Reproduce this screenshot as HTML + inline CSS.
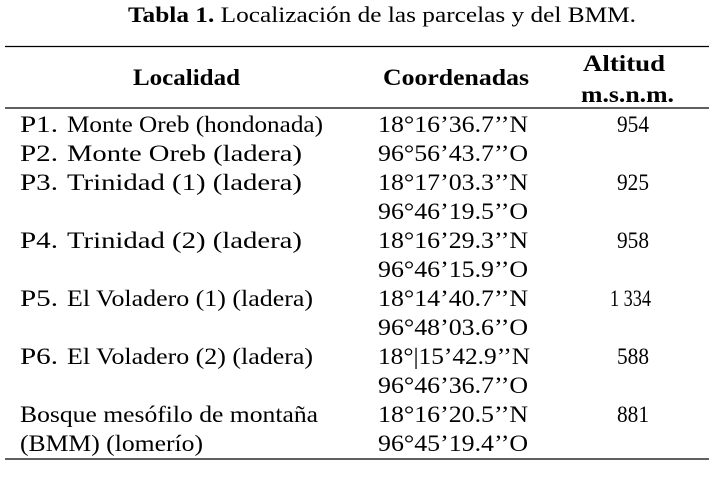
<!DOCTYPE html>
<html><head><meta charset="utf-8"><style>
html,body{margin:0;padding:0;background:#fff;}
svg text{font-family:"Liberation Serif","Times New Roman",Times,serif;}
</style></head><body>
<svg width="722" height="473" viewBox="0 0 722 473">
<text x="128" y="22" font-size="22" textLength="508" lengthAdjust="spacingAndGlyphs"><tspan font-weight="bold">Tabla 1.</tspan> Localización de las parcelas y del BMM.</text>
<line x1="5" y1="46.5" x2="709" y2="46.5" stroke="#000" stroke-width="1.3"/>
<text x="133" y="85" font-size="23" font-weight="bold" textLength="107" lengthAdjust="spacingAndGlyphs">Localidad</text>
<text x="383" y="85" font-size="23" font-weight="bold" textLength="146" lengthAdjust="spacingAndGlyphs">Coordenadas</text>
<text x="583" y="71" font-size="23" font-weight="bold" textLength="82" lengthAdjust="spacingAndGlyphs">Altitud</text>
<text x="581" y="102" font-size="23" font-weight="bold" textLength="93" lengthAdjust="spacingAndGlyphs">m.s.n.m.</text>
<line x1="5" y1="108" x2="709" y2="108" stroke="#000" stroke-width="1.2"/>
<g font-size="23">
<text x="20" y="132" textLength="38" lengthAdjust="spacingAndGlyphs">P1.</text>
<text x="67" y="132" textLength="256" lengthAdjust="spacingAndGlyphs">Monte Oreb (hondonada)</text>
<text x="378" y="132" textLength="150" lengthAdjust="spacingAndGlyphs">18°16’36.7’’N</text>
<text x="617" y="132" textLength="32" lengthAdjust="spacingAndGlyphs">954</text>

<text x="20" y="161" textLength="38" lengthAdjust="spacingAndGlyphs">P2.</text>
<text x="67" y="161" textLength="235" lengthAdjust="spacingAndGlyphs">Monte Oreb (ladera)</text>
<text x="378" y="161" textLength="150" lengthAdjust="spacingAndGlyphs">96°56’43.7’’O</text>

<text x="20" y="190" textLength="38" lengthAdjust="spacingAndGlyphs">P3.</text>
<text x="67" y="190" textLength="235" lengthAdjust="spacingAndGlyphs">Trinidad (1) (ladera)</text>
<text x="378" y="190" textLength="150" lengthAdjust="spacingAndGlyphs">18°17’03.3’’N</text>
<text x="617" y="190" textLength="32" lengthAdjust="spacingAndGlyphs">925</text>
<text x="378" y="219" textLength="150" lengthAdjust="spacingAndGlyphs">96°46’19.5’’O</text>

<text x="20" y="248" textLength="38" lengthAdjust="spacingAndGlyphs">P4.</text>
<text x="67" y="248" textLength="235" lengthAdjust="spacingAndGlyphs">Trinidad (2) (ladera)</text>
<text x="378" y="248" textLength="150" lengthAdjust="spacingAndGlyphs">18°16’29.3’’N</text>
<text x="617" y="248" textLength="32" lengthAdjust="spacingAndGlyphs">958</text>
<text x="378" y="277" textLength="150" lengthAdjust="spacingAndGlyphs">96°46’15.9’’O</text>

<text x="20" y="306" textLength="38" lengthAdjust="spacingAndGlyphs">P5.</text>
<text x="67" y="306" textLength="246" lengthAdjust="spacingAndGlyphs">El Voladero (1) (ladera)</text>
<text x="378" y="306" textLength="150" lengthAdjust="spacingAndGlyphs">18°14’40.7’’N</text>
<text x="610" y="306" textLength="41" lengthAdjust="spacingAndGlyphs">1 334</text>
<text x="378" y="335" textLength="150" lengthAdjust="spacingAndGlyphs">96°48’03.6’’O</text>

<text x="20" y="364" textLength="38" lengthAdjust="spacingAndGlyphs">P6.</text>
<text x="67" y="364" textLength="246" lengthAdjust="spacingAndGlyphs">El Voladero (2) (ladera)</text>
<text x="378" y="364" textLength="152" lengthAdjust="spacingAndGlyphs">18°|15’42.9’’N</text>
<text x="617" y="364" textLength="32" lengthAdjust="spacingAndGlyphs">588</text>
<text x="378" y="393" textLength="150" lengthAdjust="spacingAndGlyphs">96°46’36.7’’O</text>

<text x="20" y="422" textLength="298" lengthAdjust="spacingAndGlyphs">Bosque mesófilo de montaña</text>
<text x="378" y="422" textLength="150" lengthAdjust="spacingAndGlyphs">18°16’20.5’’N</text>
<text x="617" y="422" textLength="32" lengthAdjust="spacingAndGlyphs">881</text>
<text x="20" y="451" textLength="183" lengthAdjust="spacingAndGlyphs">(BMM) (lomerío)</text>
<text x="378" y="451" textLength="150" lengthAdjust="spacingAndGlyphs">96°45’19.4’’O</text>
</g>
<line x1="5" y1="459" x2="709" y2="459" stroke="#000" stroke-width="1.2"/>
</svg>
</body></html>
